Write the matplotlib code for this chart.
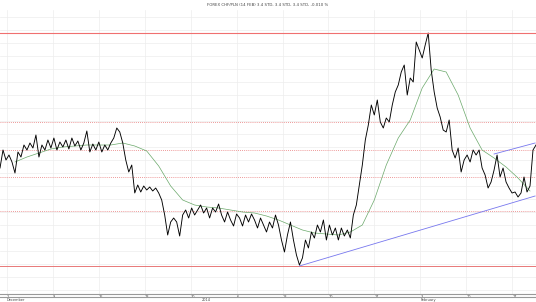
import numpy as np
import matplotlib
matplotlib.use("Agg")
import matplotlib.pyplot as plt
from matplotlib.lines import Line2D

# Price (arbitrary price units), one value per ~8h bar
close = [
    132, 150, 140, 145, 138, 127, 148, 143, 155, 150,
    157, 152, 165, 143, 155, 150, 160, 152, 162, 150,
    158, 153, 160, 151, 162, 154, 159, 150, 157, 169,
    148, 156, 150, 158, 148, 155, 150, 157, 162, 172,
    168, 157, 140, 128, 135, 107, 115, 108, 114, 110,
    113, 109, 112, 107, 100, 85, 65, 78, 82, 78,
    64, 85, 90, 82, 92, 85, 90, 95, 87, 92,
    82, 92, 88, 96, 85, 78, 88, 80, 74, 86,
    82, 74, 85, 78, 86, 80, 72, 82, 75, 68,
    78, 72, 85, 75, 60, 48, 65, 78, 60, 45,
    35, 42, 60, 52, 68, 62, 75, 68, 80, 60,
    75, 65, 72, 60, 72, 64, 70, 62, 85, 95,
    115, 135, 160, 175, 195, 185, 200, 178, 172, 182,
    178, 195, 208, 215, 228, 235, 205, 222, 218, 258,
    250, 242, 255, 267, 230, 208, 192, 183, 170, 168,
    180, 150, 142, 152, 128, 140, 145, 138, 150, 145,
    150, 132, 125, 112, 118, 130, 145, 123, 132, 118,
    112, 107, 108, 103, 107, 123, 108, 114, 150, 155,
]

# Moving average, every 4th bar starting at bar 5
ma_start = 5
ma_every = 4
moving_avg = [
    138, 143, 147, 151, 153, 154, 155, 155, 155, 157,
    154, 149, 134, 114, 100, 95, 93, 92, 90, 88,
    87, 84, 80, 75, 70, 67, 66, 65, 68, 75,
    100, 135, 162, 180, 212, 231, 228, 205, 172, 150,
    142, 133, 122, 109,
]

# Fibonacci retracement between the low and the high of the period
fib_low = 34
fib_high = 267
fib_ratios = [0.236, 0.382, 0.5, 0.618]

# Trend lines: (bar, level) pairs
support = [(100, 34), (178.7, 104)]
resistance = [(165, 146), (178.7, 157)]

# Weekly ticks (trading days from first bar) and labels
bar_days = 0.326
tick_days = [0.76, 5.76, 10.76, 15.76, 20.76, 25.76, 30.76, 35.76,
             40.76, 45.76, 50.76, 55.76]
tick_labels = ["2", "9", "16", "23", "30", "6", "13", "20", "27", "3", "10", "17"]
month_labels = [(0.76, "December"), (22.0, "2014"), (45.76, "February")]

title = "FOREX CHF/PLN (14 FEB) 3.4 STD, 3.4 STD, 3.4 STD, -0.010 %"

RED = "#e87878"

fig = plt.figure(figsize=(5.36, 3.02), dpi=100)
ax = fig.add_axes([0, 8 / 302, 1, 284 / 302])
ax.set_axisbelow(True)

t = np.arange(len(close)) * bar_days
ma_t = (ma_start + np.arange(len(moving_avg)) * ma_every) * bar_days
x_end = (len(close) - 1) * bar_days

ax.plot(t, close, color="black", lw=0.65, zorder=4)
ax.plot(ma_t, moving_avg, color="#6aa86a", lw=0.5, zorder=3)

ax.axhline(fib_high, color="#f07070", lw=0.8, zorder=5)
ax.axhline(fib_low, color=RED, lw=0.7, zorder=2)
fib_levels = [fib_low + r * (fib_high - fib_low) for r in fib_ratios]
ax.hlines(fib_levels, 0, x_end, colors=RED, lw=0.6, linestyles=(0, (1, 1.5)),
          zorder=2)

for line in (support, resistance):
    xs = [p[0] * bar_days for p in line]
    ys = [p[1] for p in line]
    ax.plot(xs, ys, color="#7777ee", lw=0.6, zorder=3)

ax.set_xlim(0, x_end)
ax.set_ylim(6, 290)
ax.set_xticks(tick_days)
ax.set_xticklabels(tick_labels, fontsize=2.5, ha="left")
ax.tick_params(axis="x", length=0, pad=0.5, colors="#444444")
ax.set_yticks(np.arange(10, 290, 13))
ax.tick_params(axis="y", left=False, labelleft=False)
ax.grid(True, color="#ededed", lw=0.5)

for s in ("top", "left", "right"):
    ax.spines[s].set_visible(False)
ax.spines["bottom"].set_color("#999999")
ax.spines["bottom"].set_linewidth(0.8)

fig.add_artist(Line2D([0, 1], [5 / 302, 5 / 302], color="#999999", lw=0.8))

for d, lab in month_labels:
    ax.text(d, -0.013, lab, transform=ax.get_xaxis_transform(), fontsize=2.5,
            va="top", ha="left", color="#444444")

fig.text(0.5, 0.99, title, fontsize=2.8, ha="center", va="top", color="#444444")

fig.savefig("out.png", dpi=100, facecolor="white")
